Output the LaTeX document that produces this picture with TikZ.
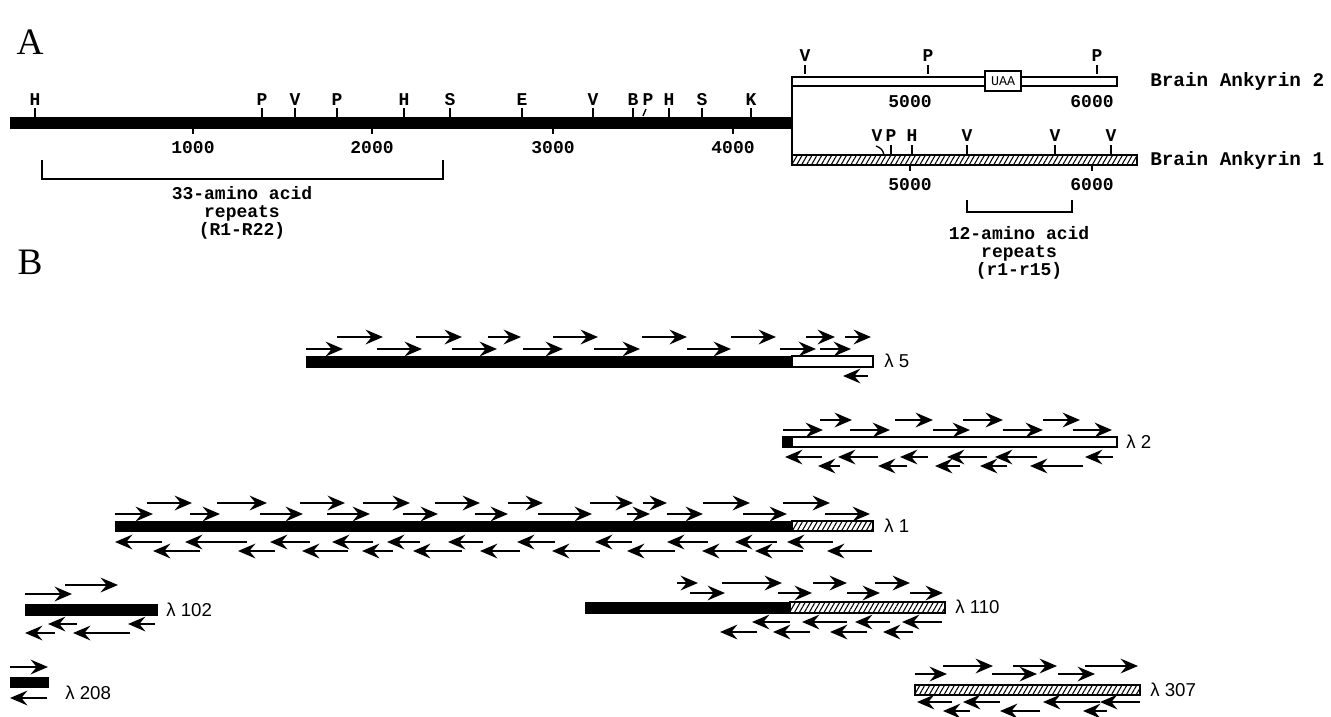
\documentclass[tikz,border=0pt]{standalone}
\usepackage{fontspec}
\setmainfont{Liberation Serif}
\newfontfamily\monof{Liberation Mono}
\newfontfamily\sansf{Liberation Sans}
\usetikzlibrary{arrows.meta,patterns.meta}
\tikzset{
  seqarr/.style={line width=1.8pt,-{Stealth[length=13pt,width=11pt,inset=4.5pt]}},
  blackbar/.style={fill=black,draw=black,line width=0.6pt},
  whitebar/.style={fill=white,draw=black,line width=1pt},
  hatchbar/.style={draw=black,line width=1pt,pattern={Lines[angle=60,distance=3.2pt,line width=0.8pt]}},
  sitelbl/.style={font=\monof\bfseries\fontsize{13.5}{13.5}\selectfont,anchor=base,inner sep=0pt},
  scalelbl/.style={font=\monof\bfseries\fontsize{13.5}{14}\selectfont,anchor=base,inner sep=0pt},
  txtlbl/.style={font=\monof\bfseries\fontsize{13.5}{13.5}\selectfont,inner sep=0pt,align=center},
  namelbl/.style={font=\monof\bfseries\fontsize{14.5}{15}\selectfont,anchor=base west,inner sep=0pt},
  ticks/.style={line width=1pt},
  brk/.style={line width=2pt},
  clonelbl/.style={font=\sansf\fontsize{14}{14}\selectfont,anchor=west,inner sep=0pt},
  panel/.style={font=\fontsize{28}{28}\selectfont,inner sep=0pt}
}
\newcommand\seqF[3]{\draw[seqarr] (#1,#3) -- (#2,#3);}
\newcommand\seqR[3]{\draw[seqarr] (#2,#3) -- (#1,#3);}
\newcommand\siteA[3]{\draw[ticks] (#1,#2+3) -- (#1,#2+12); \node[sitelbl] (s#1) at (#1,#2) {#3};}
\begin{document}
\begin{tikzpicture}[x=0.75pt,y=-0.75pt]
\useasboundingbox (0,0) rectangle (1331,717);
\fill[white] (0,0) rectangle (1331,717);
% ---------- Panel A ----------
\node[panel] (pA) at (30,42) {A};
\draw[blackbar] (10,117) rectangle (792,128);
\foreach \x/\l in {35/H,262/P,295/V,337/P,404/H,450/S,522/E,593/V,633/B,669/H,702/S,751/K}
  {\siteA{\x}{105}{\l}}
\node[sitelbl] (sP2) at (648,105) {P};
\draw[ticks] (646,109) -- (643,116);
\foreach \x/\l in {193/1000,372/2000,553/3000,733/4000}{
  \draw[ticks] (\x,128) -- (\x,134);
  \node[scalelbl] (sc\l) at (\x,153) {\l};}
\draw[brk] (42,160) -- (42,179) -- (443,179) -- (443,160);
\node[txtlbl] (r33) at (242,213) {33-amino acid\\repeats\\(R1-R22)};
% right part
\draw[line width=1.2pt] (792,77) -- (792,165);
\draw[whitebar] (792,77) rectangle (1117,86);
\foreach \x/\l in {805/V,928/P,1097/P}{\siteA{\x}{62}{\l}}
\node[draw,fill=white,line width=1pt,minimum width=36*0.75pt,minimum height=20*0.75pt,inner sep=0pt,font=\monof\fontsize{10}{10}\selectfont] (uaa) at (1003,81) {UAA};
\node[scalelbl] (a2s5) at (910,108) {5000};
\node[scalelbl] (a2s6) at (1092,108) {6000};
\node[namelbl] (ank2) at (1150,87) {Brain Ankyrin 2};
\draw[hatchbar] (792,155) rectangle (1137,165);
\foreach \x/\l in {891/P,912/H,967/V,1055/V,1111/V}{\siteA{\x}{142}{\l}}
\node[sitelbl] (sV1) at (877,142) {V};
\draw[ticks] (876,146) .. controls (881,148) and (883,150) .. (884,155);
\foreach \x/\l in {910/5000,1092/6000}{
  \draw[ticks] (\x,165) -- (\x,171);
  \node[scalelbl] (a1s\l) at (\x,190) {\l};}
\node[namelbl] (ank1) at (1150,165) {Brain Ankyrin 1};
\draw[brk] (967,200) -- (967,212) -- (1072,212) -- (1072,200);
\node[txtlbl] (r12) at (1019,253) {12-amino acid\\repeats\\(r1-r15)};
% ---------- Panel B ----------
\node[panel] (pB) at (30,262) {B};
% lambda 5
\draw[blackbar] (306,356) rectangle (792,367);
\draw[whitebar] (792,356) rectangle (873,367);
\node[clonelbl] (l5) at (884,361) {λ 5};
\foreach \a/\b in {337/383,416/462,488/521,553/598,642/687,731/776,806/835,845/871}{\seqF{\a}{\b}{337}}
\foreach \a/\b in {306/343,377/422,452/497,523/563,594/640,687/731,780/816,820/851}{\seqF{\a}{\b}{349}}
\seqR{843}{868}{376}
% lambda 2
\draw[whitebar] (783,437) rectangle (1117,447);
\draw[blackbar] (783,437) rectangle (792,447);
\node[clonelbl] (l2) at (1126,442) {λ 2};
\foreach \a/\b in {820/852,895/933,963/1003,1043/1080}{\seqF{\a}{\b}{420}}
\foreach \a/\b in {783/823,850/890,933/970,1003/1043,1073/1112}{\seqF{\a}{\b}{430}}
\foreach \a/\b in {785/822,838/878,900/928,947/987,995/1037,1085/1113}{\seqR{\a}{\b}{457}}
\foreach \a/\b in {818/840,878/907,935/960,980/1007,1030/1083}{\seqR{\a}{\b}{466}}
% lambda 1
\draw[blackbar] (115,521) rectangle (792,531);
\draw[hatchbar] (792,521) rectangle (873,531);
\node[clonelbl] (l1) at (884,526) {λ 1};
\foreach \a/\b in {147/192,217/267,300/345,363/410,435/480,508/543,590/633,643/667,703/750,783/830}{\seqF{\a}{\b}{503}}
\foreach \a/\b in {115/153,190/220,260/303,327/370,403/438,475/508,538/592,627/650,667/703,743/787,825/870}{\seqF{\a}{\b}{514}}
\foreach \a/\b in {115/162,185/247,270/310,332/373,387/420,448/483,517/555,595/632,667/708,735/777,787/833}{\seqR{\a}{\b}{542}}
\foreach \a/\b in {153/200,238/275,302/348,362/393,413/462,480/520,552/600,627/675,702/747,755/803,827/872}{\seqR{\a}{\b}{551}}
% lambda 102
\draw[blackbar] (25,604) rectangle (157,615);
\node[clonelbl] (l102) at (166,610) {λ 102};
\seqF{65}{118}{585}
\seqF{25}{72}{594}
\seqR{48}{77}{624}
\seqR{128}{155}{624}
\seqR{25}{55}{633}
\seqR{73}{130}{633}
% lambda 110
\draw[blackbar] (585,602) rectangle (790,613);
\draw[hatchbar] (790,602) rectangle (945,613);
\node[clonelbl] (l110) at (955,607) {λ 110};
\foreach \a/\b in {677/698,722/782,813/847,875/910}{\seqF{\a}{\b}{583}}
\foreach \a/\b in {690/725,778/812,847/880,910/943}{\seqF{\a}{\b}{593}}
\foreach \a/\b in {752/790,802/847,855/890,902/942}{\seqR{\a}{\b}{622}}
\foreach \a/\b in {720/757,773/810,830/867,883/913}{\seqR{\a}{\b}{632}}
% lambda 208
\draw[blackbar] (10,677) rectangle (48,687);
\node[clonelbl] (l208) at (65,693) {λ 208};
\seqF{10}{48}{667}
\seqR{10}{47}{698}
% lambda 307
\draw[hatchbar] (915,685) rectangle (1140,695);
\node[clonelbl] (l307) at (1150,690) {λ 307};
\foreach \a/\b in {943/993,1013/1057,1085/1138}{\seqF{\a}{\b}{666}}
\foreach \a/\b in {915/947,992/1037,1058/1095}{\seqF{\a}{\b}{674}}
\foreach \a/\b in {917/952,963/1000,1043/1100,1100/1140}{\seqR{\a}{\b}{702}}
\foreach \a/\b in {943/970,1000/1040,1083/1107}{\seqR{\a}{\b}{711}}
\end{tikzpicture}
\end{document}
